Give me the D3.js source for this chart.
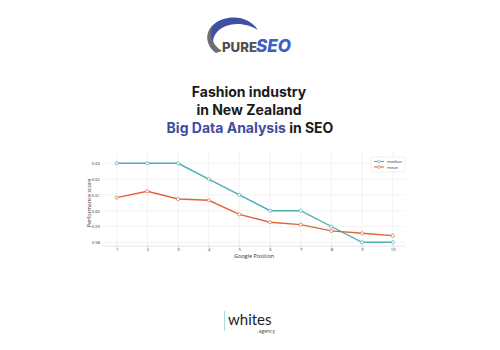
<!DOCTYPE html>
<html>
<head>
<meta charset="utf-8">
<script src="https://cdn.jsdelivr.net/npm/d3@7"></script>
<style>
  body { margin: 0; background: #fff; }
  svg { font-family: "Open Sans", sans-serif; }
</style>
</head>
<body>
<svg id="plot" width="500" height="350"></svg>
<script>
// data
let positions = [1,2,3,4,5,6,7,8,9,10]
let median = [0.63,0.63,0.63,0.62,0.61,0.60,0.60,0.59,0.58,0.58]
let mean = [0.6083,0.6123,0.6074,0.6066,0.5977,0.5927,0.5912,0.5872,0.5857,0.5842]
let yTicks = [0.58,0.59,0.60,0.61,0.62,0.63]
let seriesNames = ["median","mean"]
let seriesColors = ["#4aaeb4","#e0643a"]

let svg = d3.select("#plot")

// logo ------------------------------------------------------------
let logo = svg.append("g")
logo.append("path")
  .attr("d", "M213,50 C202,38 209,21 228,18 C241,16 252,21 258,30 C249,24 236,22 226,26 C214,31 210,41 216,50 Z")
  .attr("fill", "#3f4fa3")
logo.append("path")
  .attr("d", "M216,53 C205,45 205,32 213,25 C209,34 211,44 222,51 Z")
  .attr("fill", "#6d6e72")
logo.append("text")
  .attr("x", 222).attr("y", 51.5)
  .attr("font-size", 13).attr("font-weight", 800)
  .attr("font-family", "Inter, sans-serif")
  .attr("fill", "#4f5054")
  .attr("textLength", 35).attr("lengthAdjust", "spacingAndGlyphs")
  .text("PURE")
logo.append("text")
  .attr("x", 256).attr("y", 52)
  .attr("font-size", 17).attr("font-weight", 800)
  .attr("font-family", "Inter, sans-serif")
  .attr("font-style", "italic")
  .attr("fill", "#3d5fbf")
  .attr("textLength", 35).attr("lengthAdjust", "spacingAndGlyphs")
  .text("SEO")

// titles ----------------------------------------------------------
let titles = svg.append("g")
  .attr("text-anchor", "middle")
  .attr("font-weight", 700)
  .attr("font-size", 14)
  .attr("fill", "#1a1a1a")
  .attr("font-family", "Inter, sans-serif")
titles.append("text").attr("x", 249).attr("y", 97).text("Fashion industry")
titles.append("text").attr("x", 249).attr("y", 114.5).text("in New Zealand")
let t3 = titles.append("text").attr("x", 250).attr("y", 132.5)
t3.append("tspan").attr("fill", "#3d4ea0").text("Big Data Analysis")
t3.append("tspan").text(" in SEO")

// chart -----------------------------------------------------------
let xScale = d3.scaleLinear()
  .domain([1,10])
  .range([116.7,392.7])

let yScale = d3.scaleLinear()
  .domain([0.58,0.63])
  .range([242.3,163.3])

let plotLeft = 103, plotRight = 405, plotTop = 152, plotBottom = 246

// grid
svg.append("g")
  .selectAll("line")
  .data(positions)
  .enter()
  .append("line")
  .attr("x1", d => xScale(d)).attr("x2", d => xScale(d))
  .attr("y1", plotTop).attr("y2", plotBottom)
  .attr("stroke", "#ebebeb").attr("stroke-width", 0.6)

svg.append("g")
  .selectAll("line")
  .data(yTicks)
  .enter()
  .append("line")
  .attr("x1", plotLeft).attr("x2", plotRight)
  .attr("y1", d => yScale(d)).attr("y2", d => yScale(d))
  .attr("stroke", "#ebebeb").attr("stroke-width", 0.6)

// axes
let xAxis = svg.append("g")
  .attr("transform", "translate(0," + plotBottom + ")")
  .call(d3.axisBottom(xScale).tickValues(positions).tickSize(1.5).tickPadding(1).tickFormat(d3.format("d")))
let yAxis = svg.append("g")
  .attr("transform", "translate(" + plotLeft + ",0)")
  .call(d3.axisLeft(yScale).tickValues(yTicks).tickSize(0).tickPadding(3).tickFormat(d3.format(".2f")))

;[xAxis, yAxis].forEach(a => {
  a.select(".domain").remove()
  a.selectAll("line").attr("stroke", "#999").attr("stroke-width", 0.5)
  a.selectAll("text").attr("font-size", 4.2).attr("fill", "#333").attr("font-family", "Open Sans")
})
svg.append("line")
  .attr("x1", plotLeft).attr("x2", plotRight)
  .attr("y1", plotBottom).attr("y2", plotBottom)
  .attr("stroke", "#cfcfcf").attr("stroke-width", 0.5)

svg.append("text")
  .attr("x", 254).attr("y", 257.5)
  .attr("text-anchor", "middle")
  .attr("font-size", 5.5).attr("fill", "#333")
  .text("Google Position")

svg.append("text")
  .attr("transform", "translate(90.5,203) rotate(-90)")
  .attr("text-anchor", "middle")
  .attr("font-size", 5.5).attr("fill", "#333")
  .text("Performance score")

// lines + markers
let series = [median, mean]
let line = d3.line()
  .x((v,i) => xScale(positions[i]))
  .y(v => yScale(v))

svg.append("g")
  .selectAll("path")
  .data(series)
  .enter()
  .append("path")
  .attr("d", d => line(d))
  .attr("stroke", (d,i) => seriesColors[i])
  .attr("stroke-width", 1.4)
  .attr("fill", "none")

series.forEach((s, si) => {
  svg.append("g")
    .selectAll("circle")
    .data(s)
    .enter()
    .append("circle")
    .attr("cx", (v,i) => xScale(positions[i]))
    .attr("cy", v => yScale(v))
    .attr("r", 1.6)
    .attr("fill", "#fff")
    .attr("stroke", seriesColors[si])
    .attr("stroke-width", 0.7)
})

// legend
let legend = svg.append("g")
legend.append("rect")
  .attr("x", 371).attr("y", 157).attr("width", 34).attr("height", 15)
  .attr("fill", "#fff").attr("stroke", "#e3e3e3").attr("stroke-width", 0.5)
seriesNames.forEach((name, i) => {
  let y = 161.5 + i * 5.5
  legend.append("line")
    .attr("x1", 374).attr("x2", 384).attr("y1", y).attr("y2", y)
    .attr("stroke", seriesColors[i]).attr("stroke-width", 1)
  legend.append("circle")
    .attr("cx", 379).attr("cy", y).attr("r", 1.4)
    .attr("fill", "#fff").attr("stroke", seriesColors[i]).attr("stroke-width", 0.6)
  legend.append("text")
    .attr("x", 387).attr("y", y + 1.5)
    .attr("font-size", 4.2).attr("fill", "#333")
    .text(name)
})

// footer logo
svg.append("line")
  .attr("x1", 224.5).attr("x2", 224.5).attr("y1", 311).attr("y2", 331)
  .attr("stroke", "#8fd3d6").attr("stroke-width", 0.8)
svg.append("text")
  .attr("x", 228).attr("y", 325)
  .attr("font-size", 15).attr("fill", "#222")
  .attr("font-family", "Lato, sans-serif")
  .text("whites")
svg.append("text")
  .attr("x", 275).attr("y", 333)
  .attr("text-anchor", "end")
  .attr("font-size", 5).attr("fill", "#444")
  .text(".agency")
</script>
</body>
</html>
